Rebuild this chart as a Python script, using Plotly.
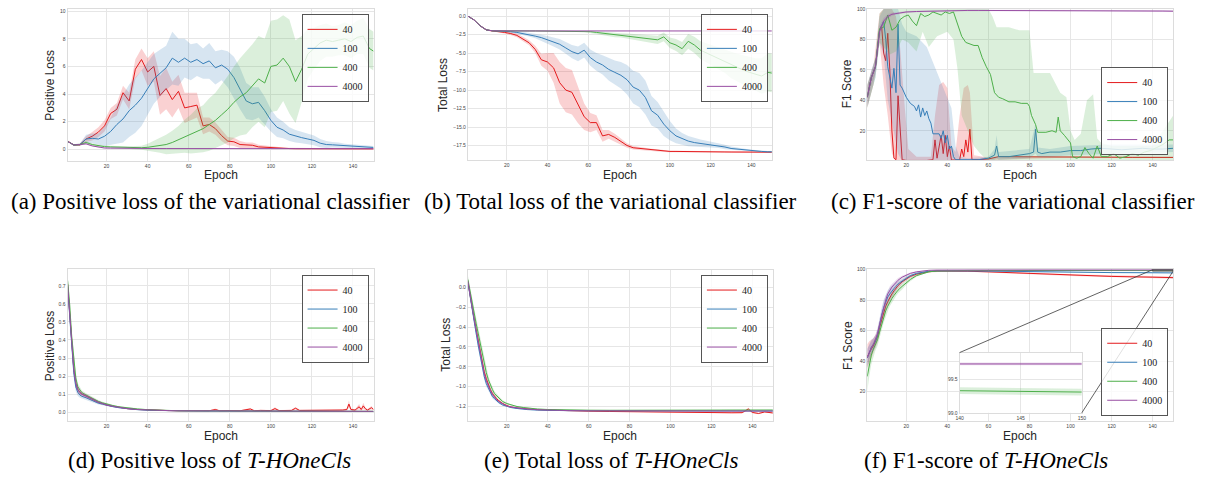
import plotly.graph_objects as go

W, H = 1206, 479

SERIES = ["40", "100", "400", "4000"]
COLORS = ["#e41a1c", "#377eb8", "#4daf4a", "#984ea3"]
EPOCH_TICKS = [20, 40, 60, 80, 100, 120, 140]

# ---------------- (a) Positive loss, variational classifier ----------------
G3 = [1, 4, 7, 10, 13, 16, 19, 22, 25, 28, 31, 34, 37, 40, 43, 46, 49, 52, 55, 58,
      61, 64, 67, 70, 73, 76, 79, 82, 85, 88, 91, 94, 97, 100, 103, 106, 109, 112, 115, 118,
      121, 124, 127, 130, 133, 136, 139, 142, 145, 148, 150]

A_RED = [0.60, 0.32, 0.33, 0.75, 0.95, 1.25, 1.70, 2.60, 2.90, 4.10,
         3.50, 5.80, 6.50, 5.60, 6.00, 3.90, 4.40, 3.60, 4.20, 3.00,
         3.10, 3.20, 1.70, 1.80, 1.50, 1.00, 0.60, 0.55, 0.35, 0.30,
         0.30, 0.18, 0.15, 0.10, 0.08, 0.07, 0.06, 0.05, 0.05, 0.05,
         0.05, 0.05, 0.05, 0.05, 0.05, 0.04, 0.04, 0.04, 0.04, 0.04, 0.04]
A_RED_HW = [0.05, 0.05, 0.08, 0.20, 0.30, 0.35, 0.40, 0.40, 0.45, 0.50,
            0.60, 0.70, 0.80, 1.00, 1.10, 1.40, 1.50, 1.30, 1.20, 1.10,
            1.00, 0.90, 0.60, 0.50, 0.45, 0.40, 0.30, 0.30, 0.25, 0.20,
            0.20, 0.15, 0.12, 0.10, 0.08, 0.06, 0.05, 0.05, 0.05, 0.04,
            0.04, 0.04, 0.04, 0.04, 0.04, 0.04, 0.04, 0.04, 0.04, 0.04, 0.04]
A_BLUE = [0.58, 0.32, 0.35, 0.75, 0.80, 0.75, 0.95, 1.30, 1.80, 2.20,
          2.80, 3.20, 3.70, 4.40, 5.10, 5.50, 5.90, 6.60, 6.30, 6.60,
          6.30, 6.50, 6.20, 6.40, 5.90, 6.10, 5.80, 5.20, 4.40, 3.50,
          3.30, 3.40, 2.80, 2.10, 1.60, 1.40, 1.10, 0.95, 0.85, 0.75,
          0.65, 0.45, 0.35, 0.33, 0.30, 0.26, 0.22, 0.20, 0.17, 0.15, 0.14]
A_BLUE_HW = [0.05, 0.05, 0.08, 0.30, 0.35, 0.40, 0.70, 1.00, 1.40, 1.70,
             1.90, 2.00, 2.00, 1.90, 1.80, 1.70, 1.60, 1.90, 1.70, 1.40,
             1.30, 1.20, 1.10, 1.30, 1.20, 1.10, 1.30, 1.50, 1.50, 1.30,
             1.20, 1.10, 1.00, 0.80, 0.70, 0.60, 0.50, 0.45, 0.40, 0.35,
             0.35, 0.30, 0.25, 0.20, 0.20, 0.15, 0.15, 0.12, 0.12, 0.10, 0.10]
A_GREEN = [0.58, 0.32, 0.35, 0.50, 0.35, 0.25, 0.20, 0.18, 0.16, 0.14,
           0.12, 0.12, 0.12, 0.15, 0.20, 0.30, 0.35, 0.50, 0.70, 0.95,
           1.10, 1.35, 1.50, 1.80, 2.10, 2.50, 2.90, 3.40, 3.80, 4.10,
           4.60, 5.10, 4.80, 6.00, 6.10, 6.60, 6.00, 4.90, 5.80, 6.90,
           7.30, 7.70, 7.90, 7.80, 7.90, 8.00, 7.80, 8.10, 8.20, 7.30, 7.10]
A_GREEN_HW = [0.05, 0.05, 0.08, 0.10, 0.08, 0.08, 0.08, 0.08, 0.08, 0.08,
              0.10, 0.12, 0.15, 0.25, 0.40, 0.55, 0.70, 0.85, 1.00, 1.20,
              1.40, 1.60, 1.70, 1.90, 2.00, 2.20, 2.40, 2.60, 2.80, 3.00,
              3.00, 3.10, 3.20, 3.30, 3.30, 3.10, 3.40, 3.00, 2.40, 1.80,
              1.50, 1.30, 1.20, 1.10, 1.10, 1.20, 1.20, 1.20, 1.30, 1.40, 1.40]
A_PURPLE = [0.58, 0.32, 0.35, 0.40, 0.25, 0.15, 0.10, 0.09, 0.08, 0.07,
            0.07, 0.07, 0.06, 0.06, 0.06, 0.06, 0.06, 0.06, 0.06, 0.06,
            0.05, 0.05, 0.05, 0.05, 0.05, 0.05, 0.05, 0.05, 0.05, 0.05,
            0.05, 0.05, 0.05, 0.05, 0.05, 0.05, 0.05, 0.05, 0.05, 0.05,
            0.05, 0.05, 0.05, 0.05, 0.05, 0.05, 0.05, 0.05, 0.05, 0.05, 0.05]
A_PURPLE_HW = [0.03, 0.03, 0.04, 0.05, 0.04, 0.03, 0.03, 0.03, 0.03, 0.03,
               0.03, 0.03, 0.03, 0.03, 0.03, 0.03, 0.03, 0.03, 0.03, 0.03,
               0.03, 0.03, 0.03, 0.03, 0.03, 0.03, 0.03, 0.03, 0.03, 0.03,
               0.03, 0.03, 0.03, 0.03, 0.03, 0.03, 0.03, 0.03, 0.03, 0.03,
               0.03, 0.03, 0.03, 0.03, 0.03, 0.03, 0.03, 0.03, 0.03, 0.03, 0.03]

# ---------------- (b) Total loss, variational classifier ----------------
B_RED = [0.00, -0.50, -1.30, -1.85, -2.00, -2.05, -2.20, -2.35, -2.60, -3.10,
         -3.60, -4.50, -5.90, -6.20, -7.00, -9.00, -10.00, -10.30, -12.00, -13.60,
         -14.40, -14.40, -16.20, -16.00, -16.40, -17.00, -17.50, -17.80, -17.90, -18.00,
         -18.10, -18.15, -18.25, -18.30, -18.30, -18.32, -18.33, -18.35, -18.35, -18.36,
         -18.36, -18.37, -18.37, -18.38, -18.38, -18.38, -18.39, -18.39, -18.40, -18.40, -18.40]
B_RED_HW = [0.02, 0.05, 0.08, 0.10, 0.10, 0.12, 0.15, 0.20, 0.25, 0.30,
            0.35, 0.50, 0.80, 1.20, 2.00, 2.80, 3.00, 3.00, 2.50, 1.80,
            1.30, 1.00, 0.80, 0.60, 0.50, 0.40, 0.30, 0.25, 0.20, 0.20,
            0.15, 0.15, 0.12, 0.10, 0.10, 0.10, 0.10, 0.10, 0.10, 0.10,
            0.10, 0.10, 0.10, 0.10, 0.10, 0.10, 0.10, 0.10, 0.10, 0.10, 0.10]
B_BLUE = [0.00, -0.50, -1.30, -1.85, -1.98, -2.00, -2.05, -2.10, -2.20, -2.35,
          -2.50, -2.70, -2.90, -3.20, -3.50, -3.80, -4.30, -4.80, -5.10, -4.60,
          -5.60, -6.20, -6.60, -7.20, -7.60, -8.00, -8.60, -9.60, -10.00, -11.00,
          -12.80, -13.40, -14.60, -15.50, -16.20, -16.60, -16.90, -17.10, -17.20, -17.30,
          -17.40, -17.50, -17.70, -17.90, -18.00, -18.10, -18.15, -18.20, -18.30, -18.35, -18.35]
B_BLUE_HW = [0.02, 0.05, 0.05, 0.05, 0.05, 0.05, 0.08, 0.10, 0.15, 0.20,
             0.25, 0.30, 0.40, 0.50, 0.60, 0.70, 0.80, 0.90, 1.00, 1.00,
             1.10, 1.20, 1.30, 1.50, 1.60, 1.80, 2.00, 2.20, 2.30, 2.30,
             2.00, 1.80, 1.60, 1.30, 1.00, 0.80, 0.70, 0.60, 0.50, 0.45,
             0.40, 0.35, 0.30, 0.25, 0.20, 0.15, 0.12, 0.10, 0.10, 0.10, 0.10]
B_GREEN = [0.00, -0.50, -1.30, -1.85, -1.98, -2.00, -2.00, -2.00, -2.00, -2.00,
           -2.00, -2.00, -2.00, -2.00, -2.00, -2.00, -2.00, -2.00, -2.00, -2.05,
           -2.10, -2.20, -2.30, -2.45, -2.55, -2.60, -2.70, -2.80, -2.90, -3.00,
           -3.10, -3.20, -2.80, -3.60, -3.90, -4.40, -3.40, -3.90, -4.60, -5.00,
           -5.30, -5.70, -6.10, -6.60, -7.00, -7.30, -7.60, -7.90, -8.10, -7.60, -7.70]
B_GREEN_HW = [0.02, 0.05, 0.05, 0.05, 0.05, 0.05, 0.05, 0.05, 0.05, 0.05,
              0.05, 0.05, 0.05, 0.05, 0.05, 0.05, 0.05, 0.05, 0.05, 0.08,
              0.10, 0.15, 0.20, 0.25, 0.30, 0.30, 0.35, 0.40, 0.45, 0.50,
              0.50, 0.55, 0.60, 0.70, 0.80, 0.90, 1.00, 1.10, 1.20, 1.30,
              1.40, 1.50, 1.60, 1.80, 1.90, 2.00, 2.10, 2.20, 2.40, 2.60, 2.60]
B_PURPLE = [0.00, -0.50, -1.30, -1.85, -1.98, -2.00, -2.00, -2.00, -2.00, -2.00,
            -2.00, -2.00, -2.00, -2.00, -2.00, -2.00, -2.00, -2.00, -2.00, -2.00,
            -2.00, -2.00, -2.00, -2.00, -2.00, -2.00, -2.00, -2.00, -2.00, -2.00,
            -2.00, -2.00, -2.00, -2.00, -2.00, -2.00, -2.00, -2.00, -2.00, -2.00,
            -2.00, -2.00, -2.00, -2.00, -2.00, -2.00, -2.00, -2.00, -2.00, -2.00, -2.00]
B_PURPLE_HW = [0.02, 0.05, 0.05, 0.05, 0.05, 0.05, 0.05, 0.05, 0.05, 0.05,
               0.05, 0.05, 0.05, 0.05, 0.05, 0.05, 0.05, 0.05, 0.05, 0.05,
               0.05, 0.05, 0.05, 0.05, 0.05, 0.05, 0.05, 0.05, 0.05, 0.05,
               0.05, 0.05, 0.05, 0.05, 0.05, 0.05, 0.05, 0.05, 0.05, 0.05,
               0.05, 0.05, 0.05, 0.05, 0.05, 0.05, 0.05, 0.05, 0.05, 0.05, 0.05]

# ---------------- (c) F1-score, variational classifier ----------------
C_RED_EP = [1, 3, 5, 7, 8, 9, 10, 11, 12, 13, 14, 15, 16, 17, 18, 20, 25, 30, 33, 34,
            35, 36, 37, 38, 39, 40, 41, 42, 44, 46, 47, 48, 49, 50, 51, 52, 55, 60, 65, 70,
            80, 90, 100, 110, 120, 130, 140, 150]
C_RED = [42, 55, 62, 86, 89, 71, 66, 84, 60, 20, 2, 1, 43, 20, 1, 0.5, 0.5, 0.5, 1, 14,
         2, 10, 17, 5, 17, 3, 10, 0.8, 0.8, 0.8, 8, 3, 14, 6, 21, 1, 1, 1.5, 3, 3,
         3, 3, 2.8, 2.7, 2.6, 2.5, 2.5, 2.5]
C_RED_BX = [1, 4, 7, 9, 11, 13, 15, 17, 19, 21, 25, 30, 32, 34, 36, 38, 40, 42, 44, 46,
            48, 50, 51, 53, 60, 100, 150]
C_RED_LO = [35, 50, 78, 50, 30, 5, 0, 0, 0, 0, 0, 0, 0, 0, 0, 0, 0, 0, 0, 0,
            0, 0, 0, 0, 0.8, 2.4, 2.2]
C_RED_HI = [50, 62, 97, 100, 100, 100, 95, 75, 40, 8, 3, 3, 3, 30, 50, 52, 48, 10, 6, 30,
            48, 50, 45, 4, 2.5, 3.2, 2.9]

C_BLUE_EP = [1, 3, 5, 7, 9, 10, 11, 12, 13, 14, 15, 16, 17, 18, 19, 20, 22, 24, 25, 26,
             27, 28, 29, 30, 31, 32, 33, 34, 36, 37, 38, 39, 40, 41, 42, 43, 44, 46, 50, 55,
             60, 62, 63, 64, 65, 70, 75, 80, 82, 83, 84, 86, 90, 95, 100, 105, 110, 115, 120, 125,
             130, 135, 140, 145, 150]
C_BLUE = [42, 55, 62, 86, 92, 80, 62, 55, 48, 61, 45, 90, 50, 48, 45, 42, 38, 36, 33, 37,
          29, 35, 30, 33, 28, 25, 18, 18, 18, 15, 20, 12, 17, 8, 10, 3, 1, 1, 1, 1,
          2, 3, 4, 10, 3, 3, 4, 5, 6, 21, 6, 5, 6, 6, 7, 7, 8, 8.5, 8, 7.5,
          8, 8.5, 8, 8, 8.5]
C_BLUE_BX = [1, 5, 7, 9, 11, 14, 16, 18, 20, 25, 30, 33, 36, 39, 42, 44, 46, 50, 60, 63,
             64, 65, 80, 83, 84, 90, 100, 120, 150]
C_BLUE_LO = [35, 55, 78, 70, 40, 20, 5, 0, 0, 0, 0, 0, 0, 0, 0, 0, 0, 0, 0.8, 1,
             2, 1, 2, 5, 3, 3, 4, 5, 6]
C_BLUE_HI = [50, 68, 95, 100, 100, 100, 100, 90, 85, 82, 75, 65, 55, 45, 35, 10, 3, 2, 3, 8,
             17, 6, 8, 25, 9, 8, 10, 11, 11]

C_GREEN_EP = [1, 3, 5, 7, 9, 11, 13, 15, 17, 19, 21, 23, 25, 27, 29, 31, 33, 35, 37, 39,
              41, 43, 45, 47, 49, 51, 53, 55, 57, 59, 61, 63, 65, 67, 70, 73, 76, 79, 80, 81,
              82, 83, 84, 85, 88, 91, 93, 94, 95, 97, 99, 100, 101, 103, 105, 107, 109, 111, 113, 115,
              118, 121, 124, 127, 130, 133, 136, 139, 142, 145, 148, 150]
C_GREEN = [42, 55, 62, 87, 88, 96, 86, 88, 93, 95, 96, 92, 89, 97, 95, 96, 98, 97, 96, 98,
           97, 98, 90, 82, 78, 77, 76, 76, 68, 62, 57, 45, 42, 41, 39, 39, 38, 38, 36, 30,
           27, 24, 19, 19, 19, 20, 19, 29, 20, 17, 14, 12, 3, 2, 3, 9, 5, 2, 10, 3,
           3, 5, 2, 3, 5, 4, 6, 7, 9, 11, 14, 14]
C_GREEN_BX = [1, 5, 7, 9, 12, 15, 18, 21, 25, 28, 31, 35, 40, 43, 45, 47, 50, 53, 56, 60,
              62, 64, 70, 75, 80, 82, 90, 95, 98, 100, 102, 105, 108, 111, 113, 115, 120, 130, 140, 145,
              150]
C_GREEN_LO = [35, 55, 78, 75, 70, 72, 80, 78, 72, 85, 75, 82, 85, 80, 60, 30, 20, 10, 5, 0,
              0, 0, 0, 0, 0, 0, 0, 0, 0, 0, 0, 0, 0, 0, 0, 0, 0, 0, 0, 0,
              0]
C_GREEN_HI = [50, 68, 97, 100, 100, 100, 100, 100, 100, 100, 100, 100, 100, 100, 100, 100, 100, 100, 100, 100,
              95, 88, 88, 86, 86, 58, 58, 45, 42, 20, 14, 18, 40, 44, 15, 12, 10, 10, 10, 20,
              30]

C_PURPLE_EP = [1, 3, 5, 7, 9, 11, 13, 15, 17, 20, 25, 30, 35, 40, 45, 50, 55, 60, 70, 80,
               90, 100, 110, 120, 130, 140, 145, 150]
C_PURPLE = [42, 55, 62, 85, 92, 95, 96.5, 97, 97.5, 98, 98.3, 98.5, 98.7, 98.8, 98.9, 99, 99, 99, 99, 98.9,
            99, 98.9, 99, 98.8, 98.9, 98.7, 98.6, 98.5]
C_PURPLE_HW = [6, 5, 5, 4, 2, 1.5, 1, 0.8, 0.7, 0.6, 0.5, 0.5, 0.5, 0.5, 0.5, 0.5, 0.5, 0.5, 0.5, 0.5,
               0.5, 0.5, 0.5, 0.5, 0.5, 0.5, 0.6, 0.6]

# ---------------- (d) Positive loss, T-HOneCls ----------------
D_EP = [1, 2, 3, 4, 5, 6, 7, 8, 10, 12, 14, 16, 18, 20, 23, 26, 30, 35, 40, 45,
        50, 55, 60, 70, 80, 90, 100, 110, 120, 130, 140, 150]
D_RED_EP = [1, 2, 3, 4, 5, 6, 7, 8, 10, 12, 14, 16, 18, 20, 23, 26, 30, 35, 40, 45,
            50, 55, 60, 65, 70, 73, 75, 80, 85, 90, 92, 95, 100, 102, 104, 110, 112, 114, 120, 125,
            130, 135, 137, 138, 139, 141, 143, 144, 145, 146, 147, 149, 150]
D_RED = [0.71, 0.55, 0.38, 0.24, 0.16, 0.125, 0.11, 0.10, 0.09, 0.078, 0.065, 0.055, 0.048, 0.04,
         0.033, 0.027, 0.02, 0.015, 0.012, 0.01, 0.009, 0.008, 0.008, 0.009, 0.008, 0.015, 0.008,
         0.009, 0.008, 0.018, 0.008, 0.01, 0.009, 0.02, 0.009, 0.01, 0.022, 0.01, 0.01, 0.012,
         0.011, 0.012, 0.015, 0.045, 0.015, 0.012, 0.03, 0.015, 0.035, 0.02, 0.012, 0.025, 0.015]
D_RED_HW = [0.02, 0.03, 0.03, 0.03, 0.025, 0.02, 0.015, 0.012, 0.01, 0.01, 0.008, 0.007, 0.006, 0.005,
            0.004, 0.003, 0.003, 0.002, 0.002, 0.002, 0.002, 0.002, 0.002, 0.003, 0.003, 0.006, 0.003,
            0.003, 0.003, 0.006, 0.003, 0.003, 0.003, 0.007, 0.003, 0.003, 0.007, 0.003, 0.003, 0.004,
            0.004, 0.004, 0.006, 0.02, 0.006, 0.005, 0.015, 0.006, 0.018, 0.008, 0.005, 0.01, 0.006]
D_BLUE = [0.70, 0.52, 0.35, 0.22, 0.14, 0.11, 0.095, 0.088, 0.08, 0.07, 0.06, 0.05, 0.045, 0.038,
          0.031, 0.025, 0.019, 0.014, 0.011, 0.009, 0.008, 0.007, 0.007, 0.006, 0.006, 0.005, 0.005,
          0.005, 0.005, 0.004, 0.004, 0.004]
D_BLUE_HW = [0.02, 0.03, 0.03, 0.03, 0.025, 0.02, 0.015, 0.012, 0.01, 0.01, 0.008, 0.007, 0.006, 0.005,
             0.004, 0.003, 0.003, 0.002, 0.002, 0.002, 0.002, 0.002, 0.002, 0.002, 0.002, 0.002, 0.002,
             0.002, 0.002, 0.002, 0.002, 0.002]
D_GREEN = [0.73, 0.60, 0.42, 0.28, 0.19, 0.14, 0.12, 0.108, 0.095, 0.082, 0.07, 0.06, 0.052, 0.045,
           0.037, 0.030, 0.024, 0.018, 0.014, 0.011, 0.009, 0.008, 0.008, 0.007, 0.006, 0.006, 0.006,
           0.005, 0.005, 0.005, 0.005, 0.005]
D_GREEN_HW = [0.03, 0.04, 0.04, 0.035, 0.03, 0.02, 0.015, 0.012, 0.01, 0.01, 0.008, 0.007, 0.006, 0.005,
              0.004, 0.003, 0.003, 0.002, 0.002, 0.002, 0.002, 0.002, 0.002, 0.002, 0.002, 0.002, 0.002,
              0.002, 0.002, 0.002, 0.002, 0.002]
D_PURPLE = [0.71, 0.56, 0.38, 0.24, 0.16, 0.125, 0.11, 0.10, 0.09, 0.078, 0.065, 0.055, 0.048, 0.04,
            0.033, 0.027, 0.02, 0.015, 0.012, 0.01, 0.009, 0.008, 0.008, 0.007, 0.007, 0.006, 0.006,
            0.005, 0.005, 0.005, 0.005, 0.005]
D_PURPLE_HW = [0.02, 0.03, 0.03, 0.03, 0.025, 0.02, 0.015, 0.012, 0.01, 0.01, 0.008, 0.007, 0.006, 0.005,
               0.004, 0.003, 0.003, 0.002, 0.002, 0.002, 0.002, 0.002, 0.002, 0.002, 0.002, 0.002, 0.002,
               0.002, 0.002, 0.002, 0.002, 0.002]

# ---------------- (e) Total loss, T-HOneCls ----------------
E_EP = [1, 2, 3, 4, 5, 6, 7, 8, 9, 10, 11, 12, 13, 14, 15, 16, 18, 20, 22, 25,
        28, 30, 35, 40, 45, 50, 60, 70, 80, 90, 100, 110, 120, 130, 140, 150]
E_RED_EP = [1, 2, 3, 4, 5, 6, 7, 8, 9, 10, 11, 12, 13, 14, 15, 16, 18, 20, 22, 25,
            28, 30, 35, 40, 45, 50, 60, 70, 80, 90, 100, 110, 120, 130, 135, 138, 140, 143, 146, 150]
E_RED = [0.06, -0.08, -0.20, -0.31, -0.42, -0.53, -0.64, -0.75, -0.85, -0.92,
         -0.98, -1.03, -1.07, -1.10, -1.12, -1.14, -1.17, -1.19, -1.205, -1.215,
         -1.222, -1.226, -1.232, -1.236, -1.24, -1.243, -1.247, -1.25, -1.253, -1.256,
         -1.258, -1.26, -1.262, -1.263, -1.262, -1.225, -1.26, -1.27, -1.255, -1.265]
E_RED_HW = [0.03, 0.03, 0.03, 0.035, 0.035, 0.035, 0.035, 0.035, 0.03, 0.03,
            0.025, 0.02, 0.018, 0.015, 0.012, 0.01, 0.008, 0.006, 0.005, 0.004,
            0.003, 0.003, 0.003, 0.003, 0.003, 0.003, 0.003, 0.003, 0.004, 0.004,
            0.004, 0.004, 0.004, 0.005, 0.005, 0.012, 0.006, 0.008, 0.006, 0.006]
E_BLUE = [0.05, -0.09, -0.22, -0.34, -0.46, -0.58, -0.69, -0.80, -0.90, -0.97,
          -1.02, -1.06, -1.10, -1.12, -1.14, -1.16, -1.185, -1.20, -1.21, -1.22,
          -1.228, -1.231, -1.236, -1.239, -1.241, -1.242, -1.243, -1.243, -1.244, -1.244,
          -1.244, -1.245, -1.245, -1.245, -1.245, -1.245]
E_BLUE_HW = [0.02, 0.02, 0.03, 0.03, 0.03, 0.035, 0.035, 0.035, 0.03, 0.03,
             0.025, 0.02, 0.02, 0.015, 0.012, 0.01, 0.008, 0.006, 0.005, 0.004,
             0.003, 0.003, 0.003, 0.003, 0.003, 0.003, 0.003, 0.003, 0.003, 0.003,
             0.003, 0.003, 0.003, 0.003, 0.003, 0.003]
E_GREEN = [0.08, -0.04, -0.16, -0.26, -0.36, -0.46, -0.56, -0.67, -0.77, -0.86,
           -0.93, -0.99, -1.03, -1.07, -1.09, -1.11, -1.15, -1.17, -1.185, -1.20,
           -1.21, -1.215, -1.225, -1.23, -1.233, -1.235, -1.237, -1.238, -1.238, -1.238,
           -1.238, -1.237, -1.237, -1.236, -1.235, -1.235]
E_GREEN_HW = [0.04, 0.04, 0.05, 0.06, 0.06, 0.06, 0.06, 0.05, 0.05, 0.045,
              0.04, 0.035, 0.03, 0.025, 0.02, 0.018, 0.012, 0.01, 0.008, 0.006,
              0.004, 0.004, 0.003, 0.003, 0.003, 0.003, 0.003, 0.003, 0.003, 0.003,
              0.003, 0.003, 0.003, 0.003, 0.003, 0.003]
E_PURPLE = [0.06, -0.08, -0.20, -0.31, -0.43, -0.55, -0.66, -0.77, -0.87, -0.94,
            -1.00, -1.04, -1.08, -1.11, -1.13, -1.15, -1.175, -1.195, -1.205, -1.215,
            -1.222, -1.226, -1.232, -1.236, -1.239, -1.241, -1.243, -1.244, -1.245, -1.245,
            -1.246, -1.246, -1.246, -1.246, -1.246, -1.246]
E_PURPLE_HW = [0.03, 0.03, 0.03, 0.035, 0.035, 0.035, 0.035, 0.035, 0.03, 0.03,
               0.025, 0.02, 0.018, 0.015, 0.012, 0.01, 0.008, 0.006, 0.005, 0.004,
               0.003, 0.003, 0.003, 0.003, 0.003, 0.003, 0.003, 0.003, 0.003, 0.003,
               0.003, 0.003, 0.003, 0.003, 0.003, 0.003]

# ---------------- (f) F1-score, T-HOneCls ----------------
F_EP = [1, 2, 3, 4, 5, 6, 7, 8, 9, 10, 11, 12, 13, 14, 15, 16, 18, 20, 22, 25,
        28, 31, 35, 40, 50, 60, 80, 100, 120, 140, 150]
F_RED = [43, 46, 48, 50, 53, 56, 62, 67, 72, 76, 79, 82, 84, 86, 88, 89.5, 92, 94, 95.5, 97,
         98, 98.6, 99, 99.1, 98.9, 98.5, 97.4, 96.3, 95.5, 95.0, 94.7]
F_RED_HW = [8, 7, 6, 5, 4, 4, 4, 4, 4, 3.5, 3, 3, 2.5, 2.5, 2, 2, 1.5, 1.2, 1, 0.8,
            0.6, 0.5, 0.4, 0.3, 0.3, 0.4, 0.5, 0.6, 0.7, 0.7, 0.7]
F_BLUE = [42, 46, 49, 51, 53, 57, 64, 70, 75, 79, 82, 84, 86, 87.5, 89, 90.5, 92.5, 94.5, 96, 97.5,
          98.4, 98.9, 99.1, 99.2, 99.1, 99.0, 98.6, 98.2, 98.0, 97.9, 97.8]
F_BLUE_HW = [6, 5, 5, 4, 4, 4, 5, 5, 5, 5, 4.5, 4, 3.5, 3, 2.5, 2, 1.5, 1.2, 1, 0.8,
             0.6, 0.5, 0.4, 0.3, 0.3, 0.3, 0.3, 0.3, 0.3, 0.3, 0.3]
F_GREEN = [30, 38, 44, 48, 51, 54, 59, 64, 69, 73, 76, 79, 81, 83, 85, 86.5, 89, 91.5, 93.5, 96,
           97.5, 98.5, 99.1, 99.3, 99.4, 99.4, 99.35, 99.35, 99.33, 99.33, 99.31]
F_GREEN_HW = [10, 8, 6, 5, 4, 4, 4, 4, 4, 4, 3.5, 3, 3, 2.5, 2.5, 2, 2, 1.5, 1.2, 0.8,
              0.6, 0.4, 0.2, 0.1, 0.06, 0.05, 0.05, 0.05, 0.05, 0.05, 0.05]
F_PURPLE = [42, 46, 49, 51, 54, 58, 64, 70, 76, 80, 84, 86.5, 88.5, 90, 91.5, 93, 95, 96.5, 97.5, 98.5,
            99.2, 99.5, 99.65, 99.7, 99.72, 99.72, 99.73, 99.73, 99.73, 99.73, 99.73]
F_PURPLE_HW = [6, 5, 4, 4, 3.5, 3.5, 3.5, 3.5, 3, 3, 2.5, 2.5, 2, 2, 1.5, 1.5, 1, 0.8, 0.6, 0.4,
               0.2, 0.1, 0.05, 0.03, 0.02, 0.02, 0.02, 0.02, 0.02, 0.02, 0.02]

CAPTIONS_TOP = ["(a) Positive loss of the variational classifier",
                "(b) Total loss of the variational classifier",
                "(c) F1-score of the variational classifier"]
CAPTIONS_BOTTOM = ["(d) Positive loss of <i>T-HOneCls</i>",
                   "(e) Total loss of <i>T-HOneCls</i>",
                   "(f) F1-score of <i>T-HOneCls</i>"]
Y_TITLES = ["Positive Loss", "Total Loss", "F1 Score", "Positive Loss", "Total Loss", "F1 Score"]

# ---------------- layout geometry (pixels) ----------------
BOX = {1: (64, 372, 6, 160), 2: (467, 773, 6, 159), 3: (869, 1177, 6, 159),
       4: (64, 372, 269, 423), 5: (467, 774, 270, 423), 6: (869, 1177, 269, 423),
       7: (962, 1085, 354, 415)}
YRANGE = {1: [-0.84, 10.16], 2: [-19.46, 0.98], 3: [0.8, 100], 4: [-0.047, 0.795],
          5: [-1.343, 0.18], 6: [1, 100.6], 7: [99.0, 99.9]}
XRANGE = {k: [1, 150] for k in range(1, 7)}
XRANGE[7] = [140, 150]
YTICKS = {1: ([0, 2, 4, 6, 8, 10], ["0", "2", "4", "6", "8", "10"]),
          2: ([0, -2.5, -5, -7.5, -10, -12.5, -15, -17.5],
              ["0.0", "\u22122.5", "\u22125.0", "\u22127.5", "\u221210.0", "\u221212.5", "\u221215.0", "\u221217.5"]),
          3: ([20, 40, 60, 80, 100], ["20", "40", "60", "80", "100"]),
          4: ([0, 0.1, 0.2, 0.3, 0.4, 0.5, 0.6, 0.7], ["0.0", "0.1", "0.2", "0.3", "0.4", "0.5", "0.6", "0.7"]),
          5: ([0, -0.2, -0.4, -0.6, -0.8, -1.0, -1.2],
              ["0.0", "\u22120.2", "\u22120.4", "\u22120.6", "\u22120.8", "\u22121.0", "\u22121.2"]),
          6: ([20, 40, 60, 80, 100], ["20", "40", "60", "80", "100"]),
          7: ([99.0, 99.5], ["99.0", "99.5"])}


def rgba(h, a):
    h = h.lstrip("#")
    return "rgba(%d,%d,%d,%s)" % (int(h[0:2], 16), int(h[2:4], 16), int(h[4:6], 16), a)


fig = go.Figure()


def axn(k):
    return ("x", "y") if k == 1 else ("x%d" % k, "y%d" % k)


def add_series(k, idx, x, y, bx, lo, hi, show=True):
    xa, ya = axn(k)
    col = COLORS[idx]
    fig.add_trace(go.Scatter(x=list(bx) + list(bx)[::-1], y=list(hi) + list(lo)[::-1],
                             fill="toself", fillcolor=rgba(col, 0.2), line=dict(width=0),
                             mode="lines", hoverinfo="skip", showlegend=False,
                             xaxis=xa, yaxis=ya))
    leg = "legend" if k == 1 else "legend%d" % min(k, 6)
    fig.add_trace(go.Scatter(x=x, y=y, mode="lines", line=dict(color=col, width=1),
                             name=SERIES[idx], legend=leg, showlegend=show,
                             xaxis=xa, yaxis=ya))


def sym(x, m, hw):
    return x, [a - b for a, b in zip(m, hw)], [a + b for a, b in zip(m, hw)]


# (a)
for i, (m, hw) in enumerate([(A_RED, A_RED_HW), (A_BLUE, A_BLUE_HW), (A_GREEN, A_GREEN_HW), (A_PURPLE, A_PURPLE_HW)]):
    bx, lo, hi = sym(G3, m, hw)
    add_series(1, i, G3, m, bx, lo, hi)
# (b)
for i, (m, hw) in enumerate([(B_RED, B_RED_HW), (B_BLUE, B_BLUE_HW), (B_GREEN, B_GREEN_HW), (B_PURPLE, B_PURPLE_HW)]):
    bx, lo, hi = sym(G3, m, hw)
    add_series(2, i, G3, m, bx, lo, hi)
# (c)
add_series(3, 0, C_RED_EP, C_RED, C_RED_BX, C_RED_LO, C_RED_HI)
add_series(3, 1, C_BLUE_EP, C_BLUE, C_BLUE_BX, C_BLUE_LO, C_BLUE_HI)
add_series(3, 2, C_GREEN_EP, C_GREEN, C_GREEN_BX, C_GREEN_LO, C_GREEN_HI)
bx, lo, hi = sym(C_PURPLE_EP, C_PURPLE, C_PURPLE_HW)
add_series(3, 3, C_PURPLE_EP, C_PURPLE, bx, lo, hi)
# (d)
for i, (x, m, hw) in enumerate([(D_RED_EP, D_RED, D_RED_HW), (D_EP, D_BLUE, D_BLUE_HW),
                                (D_EP, D_GREEN, D_GREEN_HW), (D_EP, D_PURPLE, D_PURPLE_HW)]):
    bx, lo, hi = sym(x, m, hw)
    add_series(4, i, x, m, bx, lo, hi)
# (e)
for i, (x, m, hw) in enumerate([(E_RED_EP, E_RED, E_RED_HW), (E_EP, E_BLUE, E_BLUE_HW),
                                (E_EP, E_GREEN, E_GREEN_HW), (E_EP, E_PURPLE, E_PURPLE_HW)]):
    bx, lo, hi = sym(x, m, hw)
    add_series(5, i, x, m, bx, lo, hi)
# (f) + inset
for k in (6, 7):
    for i, (m, hw) in enumerate([(F_RED, F_RED_HW), (F_BLUE, F_BLUE_HW), (F_GREEN, F_GREEN_HW), (F_PURPLE, F_PURPLE_HW)]):
        bx, lo, hi = sym(F_EP, m, hw)
        add_series(k, i, F_EP, m, bx, lo, hi, show=(k == 6))

GRID = "#e6e6e6"
FRAME = "#dcdcdc"
TICKFONT = dict(family="Liberation Sans", size=5, color="#444")

lay = dict(width=W, height=H, autosize=False, margin=dict(l=0, r=0, t=0, b=0),
           paper_bgcolor="white", plot_bgcolor="white", showlegend=True)

for k in range(1, 8):
    l, r, t, b = BOX[k]
    xs = "xaxis" if k == 1 else "xaxis%d" % k
    ys = "yaxis" if k == 1 else "yaxis%d" % k
    xa, ya = axn(k)
    xt = [140, 145, 150] if k == 7 else EPOCH_TICKS
    lay[xs] = dict(domain=[l / W, r / W], range=XRANGE[k], anchor=ya, tickvals=xt,
                   ticktext=[str(v) for v in xt], showgrid=True, gridcolor=GRID, gridwidth=1,
                   zeroline=False, showline=True, linecolor=FRAME, linewidth=1, mirror=True,
                   ticks="", tickfont=TICKFONT, fixedrange=True)
    tv, tt = YTICKS[k]
    lay[ys] = dict(domain=[1 - b / H, 1 - t / H], range=YRANGE[k], anchor=xa, tickvals=tv,
                   ticktext=tt, showgrid=True, gridcolor=GRID, gridwidth=1,
                   zeroline=False, showline=True, linecolor=FRAME, linewidth=1, mirror=True,
                   ticks="", tickfont=TICKFONT, fixedrange=True)

LEG_POS = {1: (367, 11, "top"), 2: (769, 11, "top"), 3: (1172, 154, "bottom"),
           4: (367, 275, "top"), 5: (769, 275, "top"), 6: (1172, 418, "bottom")}
for k, (px, py, ya) in LEG_POS.items():
    name = "legend" if k == 1 else "legend%d" % k
    lay[name] = dict(x=px / W, y=1 - py / H, xanchor="right", yanchor=ya,
                     bgcolor="rgba(255,255,255,0.8)", bordercolor="#555", borderwidth=1,
                     font=dict(family="Liberation Serif", size=10, color="#222"),
                     itemwidth=30, tracegroupgap=0)

ann = []
YT_POS = {1: (46, 83), 2: (442, 83), 3: (849, 82), 4: (46, 347), 5: (445, 346), 6: (849, 347)}
XT_POS = {1: (218, 174), 2: (620, 174), 3: (1023, 174), 4: (218, 438), 5: (620, 438), 6: (1023, 438)}
for k in range(1, 7):
    x, y = YT_POS[k]
    ann.append(dict(text=Y_TITLES[k - 1], x=x / W, y=1 - y / H, xref="paper", yref="paper",
                    textangle=-90, showarrow=False, xanchor="center", yanchor="middle",
                    font=dict(family="Liberation Sans", size=12, color="#262626")))
    x, y = XT_POS[k]
    ann.append(dict(text="Epoch", x=x / W, y=1 - y / H, xref="paper", yref="paper",
                    showarrow=False, xanchor="center", yanchor="middle",
                    font=dict(family="Liberation Sans", size=12, color="#262626")))
for cx, txt in zip([208, 611, 1016], CAPTIONS_TOP):
    ann.append(dict(text=txt, x=cx / W, y=1 - 201 / H, xref="paper", yref="paper",
                    showarrow=False, xanchor="center", yanchor="middle",
                    font=dict(family="Liberation Serif", size=23, color="black")))
for cx, txt in zip([207, 611, 989], CAPTIONS_BOTTOM):
    ann.append(dict(text=txt, x=cx / W, y=1 - 463 / H, xref="paper", yref="paper",
                    showarrow=False, xanchor="center", yanchor="middle",
                    font=dict(family="Liberation Serif", size=23, color="black")))
lay["annotations"] = ann


# inset marking: box in (f) data space and connectors to inset corners
def px_to_f(px, py):
    l, r, t, b = BOX[6]
    x0, x1 = XRANGE[6]
    y0, y1 = YRANGE[6]
    return x0 + (px - l) / (r - l) * (x1 - x0), y1 - (py - t) / (b - t) * (y1 - y0)


il, ir, it, ib = BOX[7]
tlx, tly = px_to_f(il, it)
brx, bry = px_to_f(ir, ib)
EDGE = "#3a3a3a"
lay["shapes"] = [
    dict(type="rect", xref="x6", yref="y6", x0=XRANGE[7][0], x1=XRANGE[7][1], y0=YRANGE[7][0], y1=YRANGE[7][1],
         line=dict(color=EDGE, width=0.8)),
    dict(type="line", xref="x6", yref="y6", x0=XRANGE[7][0], y0=YRANGE[7][1], x1=tlx, y1=tly,
         line=dict(color=EDGE, width=0.8)),
    dict(type="line", xref="x6", yref="y6", x0=XRANGE[7][1], y0=YRANGE[7][0], x1=brx, y1=bry,
         line=dict(color=EDGE, width=0.8)),
]

fig.update_layout(**lay)
fig.write_html("out.html", config={"displayModeBar": False},
               post_script="document.body.style.margin='0';document.body.style.overflow='hidden';")
